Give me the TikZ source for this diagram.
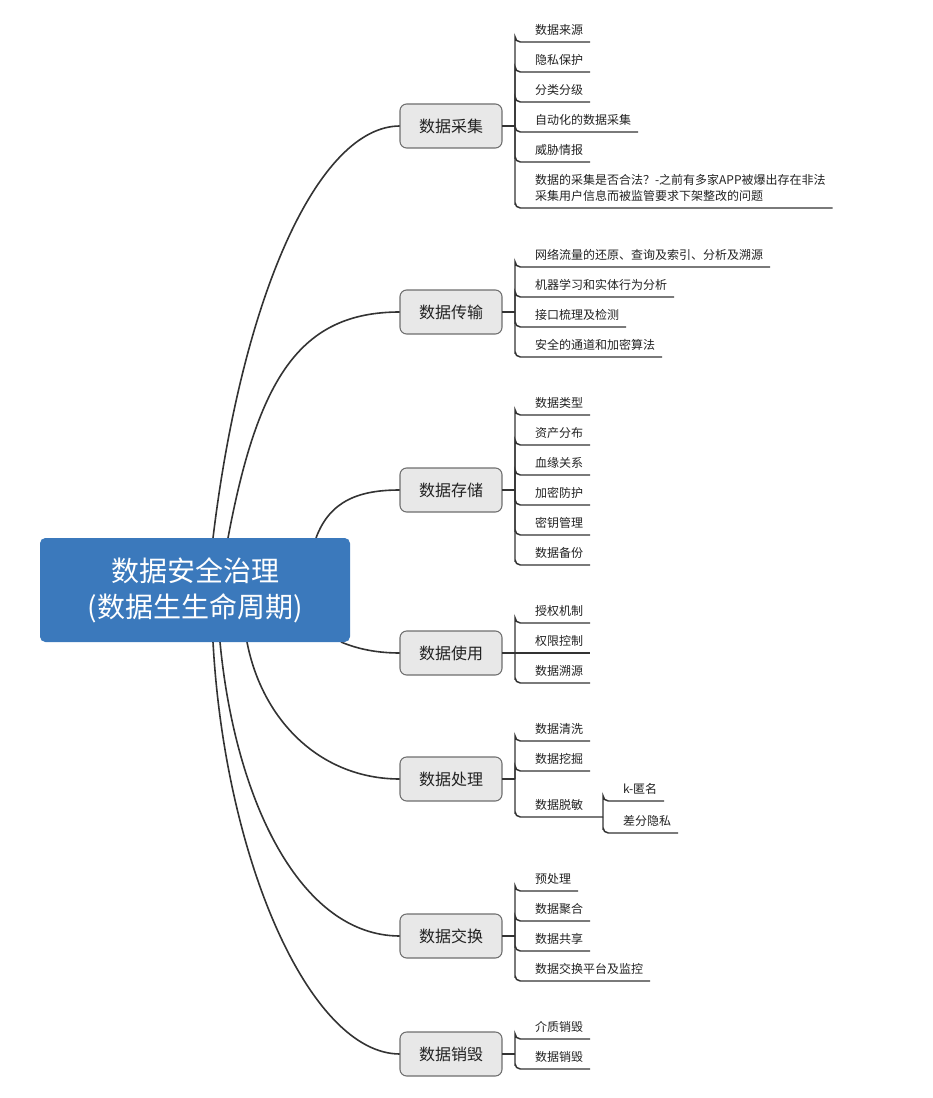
\documentclass[tikz,border=0pt]{standalone}
\usepackage{fontspec}
\setmainfont{Noto Sans CJK SC}
\usetikzlibrary{backgrounds,calc}
\definecolor{rootblue}{HTML}{3B79BC}
\definecolor{branchfill}{HTML}{E8E8E8}
\definecolor{branchline}{HTML}{6E6E6E}
\definecolor{linec}{HTML}{333333}
\definecolor{textc}{HTML}{222222}
\newcommand\lf[1]{\hspace*{15pt}#1\hspace*{5.25pt}}
\begin{document}
\begin{tikzpicture}[x=0.75pt,y=-0.75pt,
  rootbox/.style={fill=rootblue, rounded corners=4pt, minimum width=232.5pt, minimum height=78pt, text=white, font=\fontsize{21pt}{27pt}\selectfont, align=center, inner sep=0pt, outer sep=0pt},
  branchbox/.style={draw=branchline, fill=branchfill, line width=0.8pt, rounded corners=5pt, minimum width=76.5pt, minimum height=33pt, inner sep=0pt, outer sep=0pt, font=\fontsize{12pt}{14pt}\selectfont, text=textc},
  leaf/.style={anchor=south west, inner xsep=0pt, inner ysep=0pt, outer sep=0pt, text depth=5.3pt, font=\fontsize{9pt}{12pt}\selectfont, text=textc},
  conn/.style={draw=linec, line width=1.1pt},
  elbow/.style={conn, rounded corners=4pt},
  curve/.style={draw=linec, line width=1.2pt},
]
\useasboundingbox (0,0) rectangle (932,1098);

% root
\node[rootbox] (root) at (195,590) {数据安全治理\\(数据生生命周期)};

% branches
\node[branchbox] (b1) at (451,126) {数据采集};
\node[branchbox] (b2) at (451,312) {数据传输};
\node[branchbox] (b3) at (451,490) {数据存储};
\node[branchbox] (b4) at (451,653) {数据使用};
\node[branchbox] (b5) at (451,779) {数据处理};
\node[branchbox] (b6) at (451,936) {数据交换};
\node[branchbox] (b7) at (451,1054) {数据销毁};

% stub points
\foreach \i in {1,...,7} {\coordinate (s\i) at ($(b\i.east)+(13,0)$);}

% leaves of b1
\node[leaf] (l11) at (s1 |- 0,42) {\lf{数据来源}};
\node[leaf] (l12) at (s1 |- 0,72) {\lf{隐私保护}};
\node[leaf] (l13) at (s1 |- 0,102) {\lf{分类分级}};
\node[leaf] (l14) at (s1 |- 0,132) {\lf{自动化的数据采集}};
\node[leaf] (l15) at (s1 |- 0,162) {\lf{威胁情报}};
\node[leaf, align=left] (l16) at (s1 |- 0,208) {\lf{数据的采集是否合法？-之前有多家APP被爆出存在非法}\\\lf{采集用户信息而被监管要求下架整改的问题}};
% leaves of b2
\node[leaf] (l21) at (s2 |- 0,267) {\lf{网络流量的还原、查询及索引、分析及溯源}};
\node[leaf] (l22) at (s2 |- 0,297) {\lf{机器学习和实体行为分析}};
\node[leaf] (l23) at (s2 |- 0,327) {\lf{接口梳理及检测}};
\node[leaf] (l24) at (s2 |- 0,357) {\lf{安全的通道和加密算法}};
% leaves of b3
\node[leaf] (l31) at (s3 |- 0,415) {\lf{数据类型}};
\node[leaf] (l32) at (s3 |- 0,445) {\lf{资产分布}};
\node[leaf] (l33) at (s3 |- 0,475) {\lf{血缘关系}};
\node[leaf] (l34) at (s3 |- 0,505) {\lf{加密防护}};
\node[leaf] (l35) at (s3 |- 0,535) {\lf{密钥管理}};
\node[leaf] (l36) at (s3 |- 0,565) {\lf{数据备份}};
% leaves of b4
\node[leaf] (l41) at (s4 |- 0,623) {\lf{授权机制}};
\node[leaf] (l42) at (s4) {\lf{权限控制}};
\node[leaf] (l43) at (s4 |- 0,683) {\lf{数据溯源}};
% leaves of b5
\node[leaf] (l51) at (s5 |- 0,741) {\lf{数据清洗}};
\node[leaf] (l52) at (s5 |- 0,771) {\lf{数据挖掘}};
\node[leaf] (l53) at (s5 |- 0,817) {\lf{数据脱敏}};
\coordinate (t53) at ($(l53.south east)+(13,0)$);
\node[leaf] (l531) at ($(t53)+(0,-16)$) {\lf{k-匿名}};
\node[leaf] (l532) at ($(t53)+(0,16)$) {\lf{差分隐私}};
% leaves of b6
\node[leaf] (l61) at (s6 |- 0,891) {\lf{预处理}};
\node[leaf] (l62) at (s6 |- 0,921) {\lf{数据聚合}};
\node[leaf] (l63) at (s6 |- 0,951) {\lf{数据共享}};
\node[leaf] (l64) at (s6 |- 0,981) {\lf{数据交换平台及监控}};
% leaves of b7
\node[leaf] (l71) at (s7 |- 0,1039) {\lf{介质销毁}};
\node[leaf] (l72) at (s7 |- 0,1069) {\lf{数据销毁}};

% stubs
\foreach \i in {1,...,7} {\draw[conn] (b\i.east) -- (s\i);}

% elbows
\foreach \l in {11,12,13,14,15,16} {\draw[elbow] (s1) |- (l\l.south west) -- (l\l.south east);}
\foreach \l in {21,22,23,24} {\draw[elbow] (s2) |- (l\l.south west) -- (l\l.south east);}
\foreach \l in {31,32,33,34,35,36} {\draw[elbow] (s3) |- (l\l.south west) -- (l\l.south east);}
\foreach \l in {41,43} {\draw[elbow] (s4) |- (l\l.south west) -- (l\l.south east);}
\draw[conn] (s4) -- (l42.south east);
\foreach \l in {51,52} {\draw[elbow] (s5) |- (l\l.south west) -- (l\l.south east);}
\draw[elbow] (s5) |- (l53.south west) -- (t53);
\foreach \l in {531,532} {\draw[elbow] (t53) |- (l\l.south west) -- (l\l.south east);}
\foreach \l in {61,62,63,64} {\draw[elbow] (s6) |- (l\l.south west) -- (l\l.south east);}
\foreach \l in {71,72} {\draw[elbow] (s7) |- (l\l.south west) -- (l\l.south east);}

% curves from root
\begin{pgfonlayer}{background}
\draw[curve] ($(root.north)+(18,0)$) .. controls (243,290) and (320,126) .. (b1.west);
\draw[curve] ($(root.north)+(33,0)$) .. controls (258,378) and (300,312) .. (b2.west);
\draw[curve] ($(root.north)+(121,0)$) .. controls (330,500) and (360,490) .. (b3.west);
\draw[curve] ($(root.south)+(146,0)$) .. controls (360,650) and (380,653) .. (b4.west);
\draw[curve] ($(root.south)+(52,0)$) .. controls (262,720) and (320,779) .. (b5.west);
\draw[curve] ($(root.south)+(25,0)$) .. controls (235,800) and (300,936) .. (b6.west);
\draw[curve] ($(root.south)+(18,0)$) .. controls (225,860) and (310,1054) .. (b7.west);
\end{pgfonlayer}
\end{tikzpicture}
\end{document}
